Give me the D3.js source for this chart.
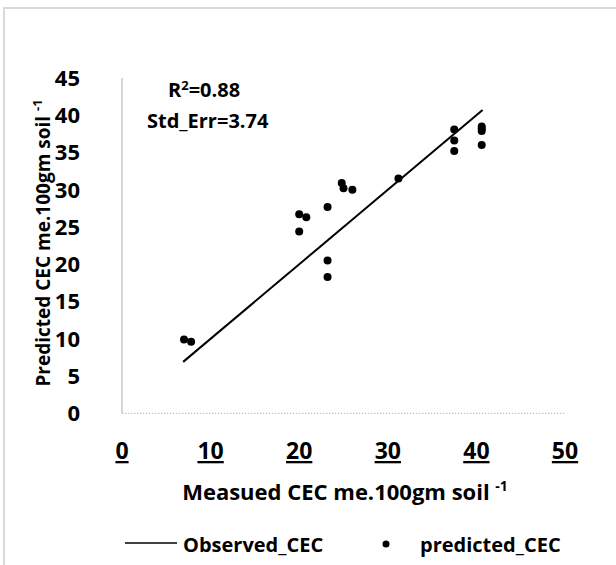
<!DOCTYPE html>
<html>
<head>
<meta charset="utf-8">
<script src="https://cdn.jsdelivr.net/npm/d3@7"></script>
<style>
  body { margin: 0; background: #fff; }
  text { font-family: "Open Sans", Lato, sans-serif; font-weight: bold; fill: #000; }
</style>
</head>
<body>
<div id="chart"></div>
<script>
// measured vs predicted CEC
const measured  = [7.0, 7.8, 20.0, 20.0, 20.8, 23.2, 23.2, 23.2, 24.8, 25.0, 26.0, 31.2, 37.5, 37.5, 37.5, 40.6, 40.6, 40.6, 40.6];
const predicted = [9.9, 9.6, 26.7, 24.4, 26.3, 27.7, 20.5, 18.3, 30.9, 30.2, 30.0, 31.5, 38.1, 36.6, 35.2, 38.5, 38.2, 37.9, 36.0];
const observedX = [6.9, 40.7];
const observedY = [6.9, 40.7];
const xTicks = [0, 10, 20, 30, 40, 50];
const yTicks = [0, 5, 10, 15, 20, 25, 30, 35, 40, 45];

const W = 616, H = 565;
const svg = d3.select("#chart").append("svg")
    .attr("width", W)
    .attr("height", H);

// chart area border
svg.append("rect")
    .attr("x", 4).attr("y", 8)
    .attr("width", 700).attr("height", 700)
    .attr("fill", "#fff")
    .attr("stroke", "#d9d9d9")
    .attr("stroke-width", 2);

const x = d3.scaleLinear().domain([0, 50]).range([122, 565]);
const y = d3.scaleLinear().domain([0, 45]).range([413.3, 78]);

// x axis (dotted baseline)
svg.append("line")
    .attr("x1", x(0)).attr("x2", x(50))
    .attr("y1", y(0)).attr("y2", y(0))
    .attr("stroke", "#bfbfbf")
    .attr("stroke-width", 1.3)
    .attr("stroke-dasharray", "1.3,1.7");

// y axis
svg.append("line")
    .attr("x1", x(0)).attr("x2", x(0))
    .attr("y1", y(0)).attr("y2", y(45))
    .attr("stroke", "#bfbfbf")
    .attr("stroke-width", 1.3);

// y tick labels
svg.selectAll(".ytick")
    .data(yTicks)
    .enter()
    .append("text")
    .attr("class", "ytick")
    .attr("x", 80)
    .attr("y", d => y(d))
    .attr("dy", "0.36em")
    .attr("text-anchor", "end")
    .style("font-size", "22px")
    .text(d => d);

// x tick labels (underlined)
svg.selectAll(".xtick")
    .data(xTicks)
    .enter()
    .append("text")
    .attr("class", "xtick")
    .attr("x", d => x(d))
    .attr("y", 459)
    .attr("text-anchor", "middle")
    .style("font-size", "23px")
    .style("text-decoration", "underline")
    .text(d => d);

// axis titles
const xt = svg.append("text")
    .attr("x", 345)
    .attr("y", 500)
    .attr("text-anchor", "middle")
    .style("font-size", "22px");
xt.append("tspan").text("Measued CEC me.100gm soil ");
xt.append("tspan").attr("dy", -9).style("font-size", "14px").text("-1");

const yt = svg.append("text")
    .attr("transform", "translate(50,243) rotate(-90)")
    .attr("text-anchor", "middle")
    .style("font-size", "19px");
yt.append("tspan").text("Predicted CEC me.100gm soil ");
yt.append("tspan").attr("dy", -8).style("font-size", "13px").text("-1");

// observed line
const line = d3.line()
    .x((d, i) => x(observedX[i]))
    .y(d => y(d));

svg.append("path")
    .datum(observedY)
    .attr("d", line)
    .attr("fill", "none")
    .attr("stroke", "#000")
    .attr("stroke-width", 2);

// predicted points
svg.selectAll(".dot")
    .data(predicted)
    .enter()
    .append("circle")
    .attr("class", "dot")
    .attr("cx", (d, i) => x(measured[i]))
    .attr("cy", d => y(d))
    .attr("r", 4)
    .attr("fill", "#000");

// stats annotation
const r2 = svg.append("text")
    .attr("x", 168)
    .attr("y", 97)
    .style("font-size", "20px");
r2.append("tspan").text("R");
r2.append("tspan").attr("dy", -7).style("font-size", "13px").text("2");
r2.append("tspan").attr("dy", 7).text("=0.88");

svg.append("text")
    .attr("x", 147)
    .attr("y", 128)
    .style("font-size", "20px")
    .text("Std_Err=3.74");

// legend
svg.append("line")
    .attr("x1", 125).attr("x2", 177)
    .attr("y1", 543).attr("y2", 543)
    .attr("stroke", "#000")
    .attr("stroke-width", 1.5);
svg.append("text")
    .attr("x", 183).attr("y", 552)
    .style("font-size", "20px")
    .text("Observed_CEC");
svg.append("circle")
    .attr("cx", 386).attr("cy", 544)
    .attr("r", 3.5)
    .attr("fill", "#000");
svg.append("text")
    .attr("x", 420).attr("y", 552)
    .style("font-size", "20px")
    .text("predicted_CEC");
</script>
</body>
</html>
